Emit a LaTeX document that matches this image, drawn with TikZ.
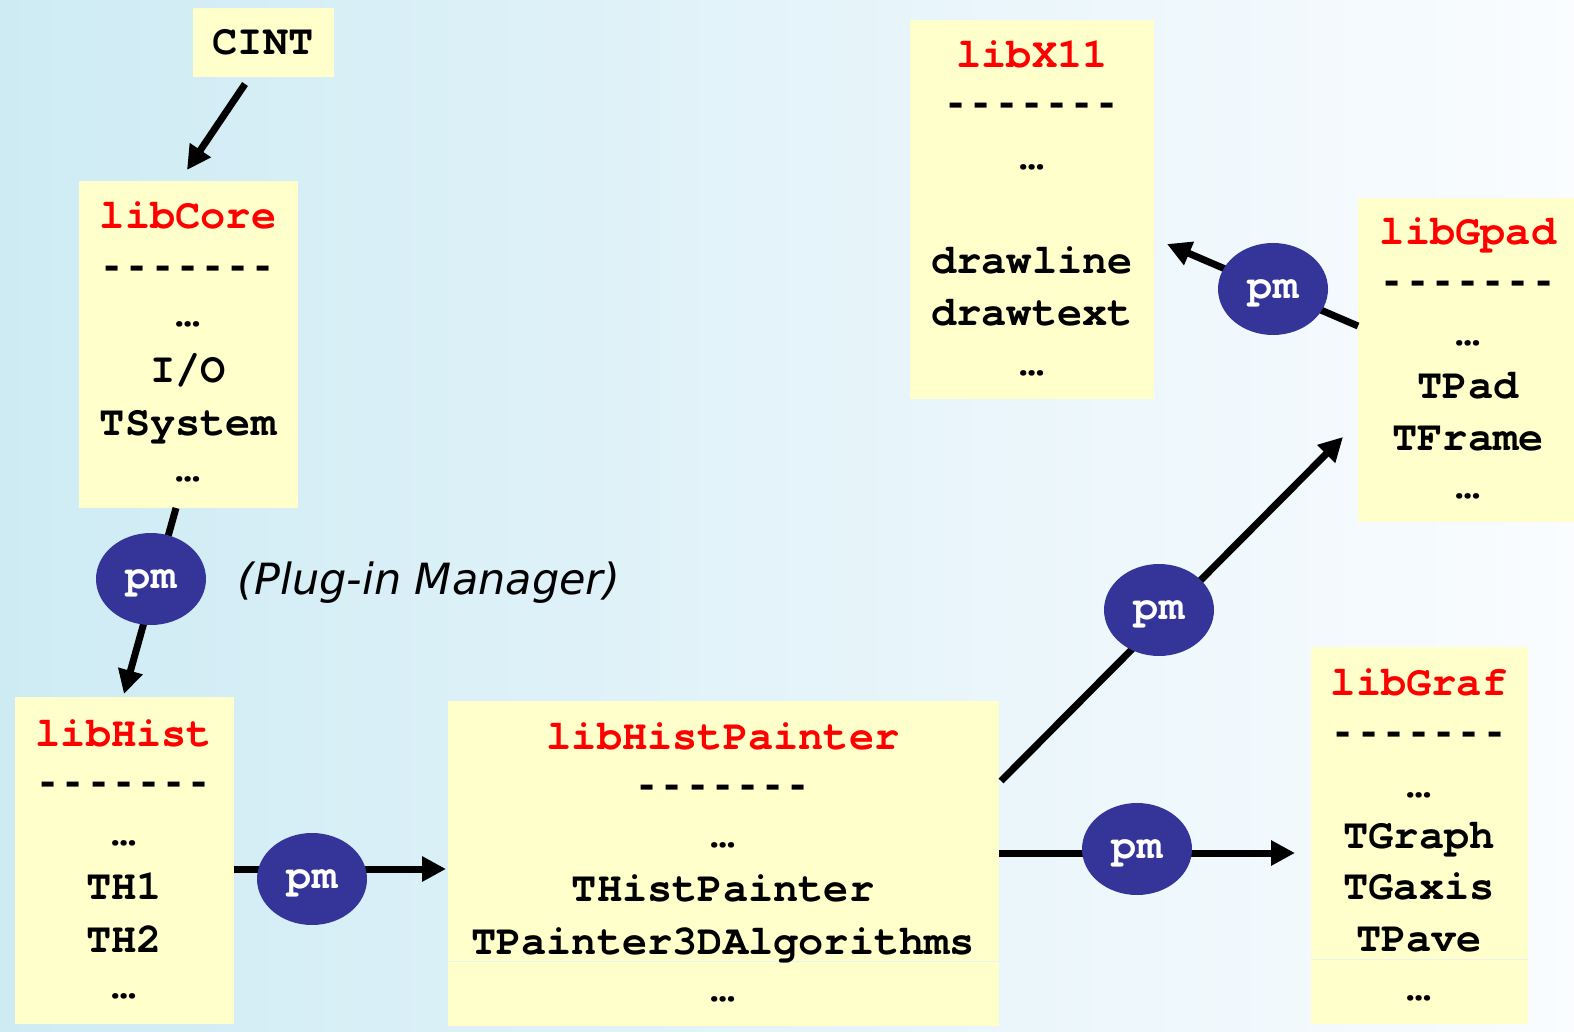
\documentclass[tikz,border=0pt]{standalone}
\usepackage{fontspec}
\setmonofont{TeX Gyre Cursor}
\newfontfamily\rulefont{Liberation Mono}
\newfontfamily\notefont{DejaVu Sans}
\usetikzlibrary{arrows.meta,shapes.geometric}

\definecolor{boxyellow}{RGB}{255,255,204}
\definecolor{pmblue}{RGB}{53,53,153}
\definecolor{libred}{RGB}{255,0,0}
\definecolor{bgleft}{RGB}{206,235,244}
\definecolor{bgright}{RGB}{250,252,255}
\definecolor{seamcol}{RGB}{234,244,238}

\begin{document}
\begin{tikzpicture}[x=0.5pt,y=-0.5pt,
  libbox/.style={rectangle,draw=none,fill=boxyellow,inner sep=0pt},
  code/.style={font=\ttfamily\bfseries\fontsize{21}{25}\selectfont,anchor=base,inner sep=0pt},
  rule/.style={code,font=\rulefont\bfseries\fontsize{21}{25}\selectfont},
  libtitle/.style={code,text=libred},
  pmnode/.style={ellipse,fill=pmblue,minimum width=55pt,minimum height=46pt,inner sep=0pt,
    text=white,font=\ttfamily\bfseries\fontsize{21}{25}\selectfont,text depth=0pt},
  link/.style={line width=3.5pt,-{Triangle[length=12pt,width=12pt]}},
  seam/.style={line width=0.5pt,draw=seamcol}]

% background
\fill[left color=bgleft,right color=bgright] (0,0) rectangle (1574,1032);

% library boxes
\node[libbox,minimum width=70.5pt,minimum height=34.5pt] (cint) at (263.5,42.5) {};
\node[libbox,minimum width=109.5pt,minimum height=163.5pt] (core) at (188.5,344.5) {};
\node[libbox,minimum width=109.5pt,minimum height=163.5pt] (hist) at (124.5,860.5) {};
\node[libbox,minimum width=275.5pt,minimum height=162.5pt] (painter) at (723.5,863.5) {};
\node[libbox,minimum width=108.5pt,minimum height=188.5pt] (graf) at (1419.5,835.5) {};
\node[libbox,minimum width=108pt,minimum height=162pt] (gpad) at (1466,360) {};
\node[libbox,minimum width=122pt,minimum height=189.5pt] (x11) at (1032,209.5) {};

\draw[seam] (painter.west |- 0,961) -- (painter.east |- 0,961);
\draw[seam] (graf.west |- 0,959) -- (graf.east |- 0,959);

% box contents
\node[code] (cintT) at (263,55) {CINT};

\node[libtitle] (coreT) at (188,229) {libCore};
\node[rule] (coreD) at (188,279) {-------};
\node[code] (coreA) at (188,327) {…};
\node[code] (coreB) at (188,382) {I/O};
\node[code] (coreC) at (188,435) {TSystem};
\node[code] (coreE) at (188,481) {…};

\node[libtitle] (histT) at (124,746) {libHist};
\node[rule] (histD) at (124,795) {-------};
\node[code] (histA) at (124,845) {…};
\node[code] (histB) at (124,899) {TH1};
\node[code] (histC) at (124,952) {TH2};
\node[code] (histE) at (124,998) {…};

\node[libtitle] (paintT) at (723,749) {libHistPainter};
\node[rule] (paintD) at (723,798) {-------};
\node[code] (paintA) at (723,847) {…};
\node[code] (paintB) at (723,901) {THistPainter};
\node[code] (paintC) at (723,954) {TPainter3DAlgorithms};
\node[code] (paintE) at (723,1001) {…};

\node[libtitle] (grafT) at (1419,695) {libGraf};
\node[rule] (grafD) at (1419,745) {-------};
\node[code] (grafA) at (1419,797) {…};
\node[code] (grafB) at (1419,848) {TGraph};
\node[code] (grafC) at (1419,899) {TGaxis};
\node[code] (grafF) at (1419,951) {TPave};
\node[code] (grafE) at (1419,1000) {…};

\node[libtitle] (gpadT) at (1468,245) {libGpad};
\node[rule] (gpadD) at (1468,294) {-------};
\node[code] (gpadA) at (1468,345) {…};
\node[code] (gpadB) at (1468,398) {TPad};
\node[code] (gpadC) at (1468,450) {TFrame};
\node[code] (gpadE) at (1468,498) {…};

\node[libtitle] (x11T) at (1032,68) {libX11};
\node[rule] (x11D) at (1032,117) {-------};
\node[code] (x11A) at (1032,170) {…};
\node[code] (x11B) at (1032,274) {drawline};
\node[code] (x11C) at (1032,325) {drawtext};
\node[code] (x11E) at (1032,375) {…};

% connector end points
\coordinate (c1a) at (245,84);   \coordinate (c1b) at (187,170);
\coordinate (c2a) at (176,508);  \coordinate (c2b) at (124,694);
\coordinate (c3a) at (234,869);  \coordinate (c3b) at (446,869);
\coordinate (c4a) at (999,853);  \coordinate (c4b) at (1295,853);
\coordinate (c5a) at (1001,781); \coordinate (c5b) at (1343,437);
\coordinate (c6a) at (1358,326); \coordinate (c6b) at (1167,244);

% connectors
\draw[link] (c1a) -- (c1b);
\draw[link] (c2a) -- (c2b);
\draw[link] (c3a) -- (c3b);
\draw[link] (c4a) -- (c4b);
\draw[link] (c5a) -- (c5b);
\draw[link] (c6a) -- (c6b);

% plug-in manager nodes
\node[pmnode] (pm1) at (151,579) {pm};
\node[pmnode] (pm2) at (312,879) {pm};
\node[pmnode] (pm3) at (1137,849) {pm};
\node[pmnode] (pm4) at (1159,610) {pm};
\node[pmnode] (pm5) at (1273,289) {pm};

\node[anchor=base west,inner sep=0pt,font=\notefont\itshape\fontsize{21.5}{25}\selectfont] (note) at (237,594) {(Plug-in Manager)};
\end{tikzpicture}
\end{document}
